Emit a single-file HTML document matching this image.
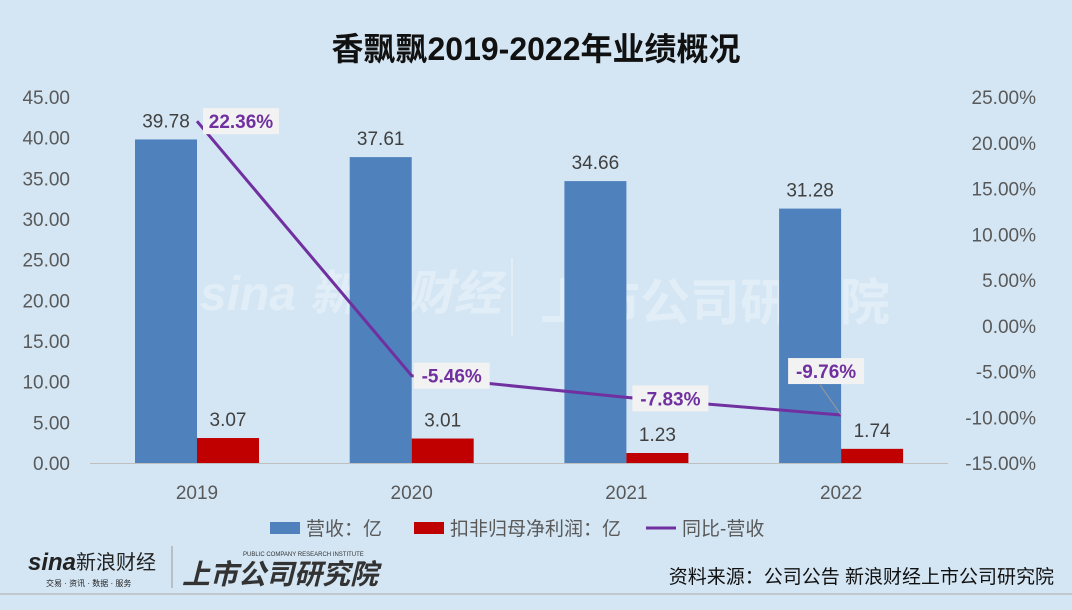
<!DOCTYPE html>
<html><head><meta charset="utf-8"><style>
body{margin:0;width:1072px;height:610px;background:#d4e6f4;overflow:hidden;font-family:"Liberation Sans","Noto Sans CJK SC",sans-serif}
svg{position:absolute;left:0;top:0}
</style></head><body>
<svg width="1072" height="610" id="c">
<text x="536" y="60" text-anchor="middle" font-size="32" font-weight="bold" fill="#111" font-family="Liberation Sans,Noto Sans CJK SC,sans-serif">香飘飘2019-2022年业绩概况</text>
<g opacity="0.3">
<text x="200" y="310" font-size="48" font-weight="bold" font-style="italic" fill="#fff">sina 新浪财经</text>
<line x1="512" y1="258" x2="512" y2="336" stroke="#fff" stroke-width="2"/>
<text x="540" y="320" font-size="50" font-weight="bold" fill="#fff">上市公司研究院</text>
</g>
<g id="axes"></g>
<g id="marks"></g>
<g>
<rect x="270" y="522" width="30" height="12" fill="#4f81bd"/>
<text x="306" y="535" font-size="19" fill="#595959">营收：亿</text>
<rect x="414" y="522" width="30" height="12" fill="#c00000"/>
<text x="450" y="535" font-size="19" fill="#595959">扣非归母净利润：亿</text>
<line x1="646" y1="528" x2="676" y2="528" stroke="#7030a0" stroke-width="3"/>
<text x="682" y="535" font-size="19" fill="#595959">同比-营收</text>
</g>
<g>
<text x="28" y="570" font-size="24" font-weight="bold" font-style="italic" fill="#222">sina</text>
<text x="76" y="569" font-size="20" fill="#222">新浪财经</text>
<text x="46" y="586" font-size="8" fill="#222">交易 · 资讯 · 数据 · 服务</text>
<line x1="172" y1="546" x2="172" y2="588" stroke="#999"/>
<text x="182" y="584" font-size="28" font-weight="bold" font-style="italic" fill="#333">上市公司研究院</text>
<text x="243" y="556" font-size="6" fill="#333">PUBLIC COMPANY RESEARCH INSTITUTE</text>
</g>
<text x="1054" y="583" text-anchor="end" font-size="19" fill="#111">资料来源：公司公告 新浪财经上市公司研究院</text>
<line x1="0" y1="594" x2="1072" y2="594" stroke="#aaa"/>
</svg>
<script>
const categories=["2019","2020","2021","2022"];
const revenue=[39.78,37.61,34.66,31.28];
const profit=[3.07,3.01,1.23,1.74];
const yoy=[22.36,-5.46,-7.83,-9.76];
const leftTicks=[0,5,10,15,20,25,30,35,40,45];
const rightTicks=[-15,-10,-5,0,5,10,15,20,25];
const NS="http://www.w3.org/2000/svg";
const yL=v=>463-v*(366/45);
const yR=v=>463-(v+15)*(366/40);
const xC=i=>197+i*214.7;
function mk(t,a,p,txt){const e=document.createElementNS(NS,t);for(const k in a)e.setAttribute(k,a[k]);if(txt!==undefined)e.textContent=txt;document.getElementById(p).appendChild(e);return e;}
leftTicks.forEach(v=>{const e=mk("text",{x:70,y:yL(v)+7,"text-anchor":"end","font-size":19,fill:"#595959"},"axes",v.toFixed(2));

});
rightTicks.forEach(v=>{const e=mk("text",{x:1036,y:yR(v)+7,"text-anchor":"end","font-size":19,fill:"#595959"},"axes",v.toFixed(2)+"%");

});
const ax=mk("line",{x1:90,y1:463.5,x2:948,y2:463.5,stroke:"#bfbfbf"},"axes");


categories.forEach((c,i)=>{const e=mk("text",{x:xC(i),y:499,"text-anchor":"middle","font-size":19,fill:"#595959"},"axes",c);

});
const bw=62;
categories.forEach((c,i)=>{
const b=mk("rect",{x:xC(i)-bw,y:yL(revenue[i]),width:bw,height:463-yL(revenue[i]),fill:"#4f81bd"},"marks");


const r=mk("rect",{x:xC(i),y:yL(profit[i]),width:bw,height:463-yL(profit[i]),fill:"#c00000"},"marks");


const t1=mk("text",{x:xC(i)-bw/2,y:yL(revenue[i])-12,"text-anchor":"middle","font-size":19,fill:"#404040"},"marks",revenue[i].toFixed(2));


const t2=mk("text",{x:xC(i)+bw/2,y:yL(profit[i])-12,"text-anchor":"middle","font-size":19,fill:"#404040"},"marks",profit[i].toFixed(2));


});
const pts=yoy.map((v,i)=>xC(i)+","+yR(v)).join(" ");
const pl=mk("polyline",{points:pts,fill:"none",stroke:"#7030a0","stroke-width":3},"marks");


const off=[[44,0],[40,0],[44,1],[-15,-44]];
yoy.forEach((v,i)=>{
const cx=xC(i)+off[i][0],cy=yR(v)+off[i][1];
if(i==3){const l=mk("line",{x1:xC(i),y1:yR(v),x2:cx-6,y2:cy+14,stroke:"#999"},"marks");

}
const bg=mk("rect",{x:cx-38,y:cy-13,width:76,height:26,fill:"#f2f2f2"},"marks");


const t=mk("text",{x:cx,y:cy+7,"text-anchor":"middle","font-size":19,"font-weight":"bold",fill:"#7030a0"},"marks",v.toFixed(2)+"%");


});
</script>
</body></html>
